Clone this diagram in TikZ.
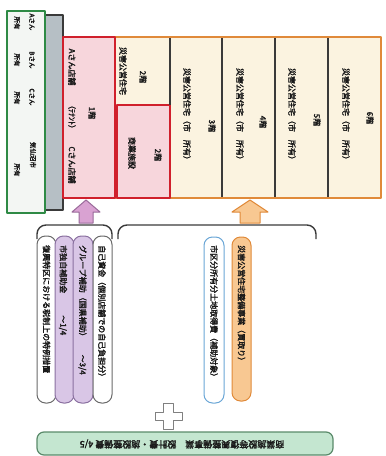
\documentclass[tikz,border=0pt]{standalone}
\usepackage{fontspec}
\setmainfont{Noto Sans CJK JP}[AutoFakeBold=2.5]
\definecolor{txt}{HTML}{1A1A1A}
\definecolor{dk}{HTML}{3A3A3A}
\definecolor{grayb}{HTML}{B6BFC5}
\definecolor{gfill}{HTML}{F3F6F3}
\definecolor{gbord}{HTML}{2E8A45}
\definecolor{cream}{HTML}{FBF3E0}
\definecolor{orb}{HTML}{E08A3A}
\definecolor{pinkf}{HTML}{F7D6DC}
\definecolor{redb}{HTML}{D0202C}
\definecolor{pinkar}{HTML}{D9A2D2}
\definecolor{pinkarb}{HTML}{9A6A9A}
\definecolor{orf}{HTML}{F8C892}
\definecolor{purf}{HTML}{D9C6E6}
\definecolor{purb}{HTML}{8A70A0}
\definecolor{pillb}{HTML}{6A6A6A}
\definecolor{blueb}{HTML}{6AA6D6}
\definecolor{gbar}{HTML}{C4E6D0}
\definecolor{gbarb}{HTML}{5A8A6A}
\tikzset{
  vt/.style={font=\fontsize{8}{9}\selectfont\bfseries, text=txt, inner sep=0pt, rotate=-90},
  vs/.style={font=\fontsize{6.5}{7}\selectfont\bfseries, text=txt, inner sep=0pt, rotate=-90},
  pilltext/.style={vt, anchor=west},
  pill/.style={line width=1, rounded corners=8.5},
  frame/.style={line width=1.5},
}
\begin{document}
\begin{tikzpicture}[x=1pt,y=-1pt,line join=round]
\useasboundingbox (0,0) rectangle (386,456);
% ownership bar
\draw[fill=grayb, draw=dk, line width=1.2] (45,15) rectangle (63,210);
\draw[fill=gfill, draw=gbord, line width=2] (7,11) rectangle (45,213);
\node[vs] (oa) at (32,22) {Aさん};
\node[vs] (oa2) at (17,23) {所有};
\node[vs] (ob) at (32,60) {Bさん};
\node[vs] (ob2) at (17,60) {所有};
\node[vs] (oc) at (32,97) {Cさん};
\node[vs] (oc2) at (17,98) {所有};
\node[vs] (ok) at (33,155) {気仙沼市};
\node[vs] (ok2) at (17,170) {所有};
% building
\draw[fill=cream, draw=orb, frame] (115,37) rectangle (381,198);
\draw[fill=pinkf, draw=redb, frame] (63,37) rectangle (115,198);
\draw[fill=pinkf, draw=redb, frame] (117,105) rectangle (170,198);
\draw[dk, frame] (170,38) -- (170,105);
\foreach \x in {222,275,328} \draw[dk, line width=1.8] (\x,38) -- (\x,197);
% floor texts
\node[vt] (f1) at (92,113) {1階};
\node[vt] (f1a) at (72,67) {Aさん店舗};
\node[vt] (f1b) at (72,117) {（ﾃﾅﾝﾄ）};
\node[vt] (f1c) at (72,165) {Cさん店舗};
\node[vt] (f2u) at (123,71) {災害公営住宅};
\node[vt] (f2ul) at (143,77) {2階};
\node[vt] (f2d) at (132,153) {商業施設};
\node[vt] (f2dl) at (158,155) {2階};
\node[vt] (f3) at (187,116) {災害公営住宅（市　所有）};
\node[vt] (f3l) at (212,126) {3階};
\node[vt] (f4) at (240,116) {災害公営住宅（市　所有）};
\node[vt] (f4l) at (263,122) {4階};
\node[vt] (f5) at (292,116) {災害公営住宅（市　所有）};
\node[vt] (f5l) at (317,120) {5階};
\node[vt] (f6) at (346,116) {災害公営住宅（市　所有）};
\node[vt] (f6l) at (370,118) {6階};
% block arrows
\draw[fill=pinkar, draw=pinkarb, line width=1] (86,200) -- (100,212) -- (93,212) -- (93,223) -- (79,223) -- (79,212) -- (72,212) -- cycle;
\draw[fill=orf, draw=orb, line width=1] (250,200) -- (268,212) -- (260,212) -- (260,223) -- (240,223) -- (240,212) -- (232,212) -- cycle;
% brackets
\draw[dk, line width=1.4, rounded corners=9] (37,239) -- (37,225) -- (112,225) -- (112,239);
\draw[dk, line width=1.4, rounded corners=9] (118,239) -- (118,225) -- (316,225) -- (316,239);
% pills left group
\draw[pill, fill=white, draw=pillb] (37,236) rectangle (56,403);
\draw[pill, fill=purf, draw=purb] (55,236) rectangle (74,403);
\draw[pill, fill=purf, draw=purb] (73,236) rectangle (93,403);
\draw[pill, fill=white, draw=pillb] (93,236) rectangle (112,403);
\node[pilltext] (s1) at (46.5,245) {復興特区における税制上の特例措置};
\node[pilltext] (s2) at (63,245) {市独自補助金\hspace{22pt}～1/4};
\node[pilltext] (s3) at (82.5,245) {グループ補助（国県補助）\hspace{14pt}～3/4};
\node[pilltext] (s4) at (102,245) {自己資金（個別店舗での自己負担分）};
% pills right group
\draw[pill, fill=white, draw=blueb] (204,237) rectangle (224,403);
\draw[pill, fill=orf, draw=orb] (232,237) rectangle (251,401);
\node[pilltext] (s5) at (214,245) {市区分所有分土地取得費（補助対象）};
\node[pilltext] (s6) at (241.5,245) {災害公営住宅整備事業（買取り）};
% plus sign
\draw[fill=white, draw=gray, line width=1] (163,403) -- (173,403) -- (173,412) -- (182,412) -- (182,420) -- (173,420) -- (173,429) -- (163,429) -- (163,420) -- (155,420) -- (155,412) -- (163,412) -- cycle;
% green bar
\draw[fill=gbar, draw=gbarb, line width=1.2, rounded corners=7] (37,432) rectangle (333,455);
\node[font=\fontsize{9}{10}\selectfont\bfseries, text=txt, inner sep=0pt, rotate=180] (gb) at (182,444) {商業施設等復興整備事業　設計費・施設整備費 4/5};
\end{tikzpicture}
\end{document}
